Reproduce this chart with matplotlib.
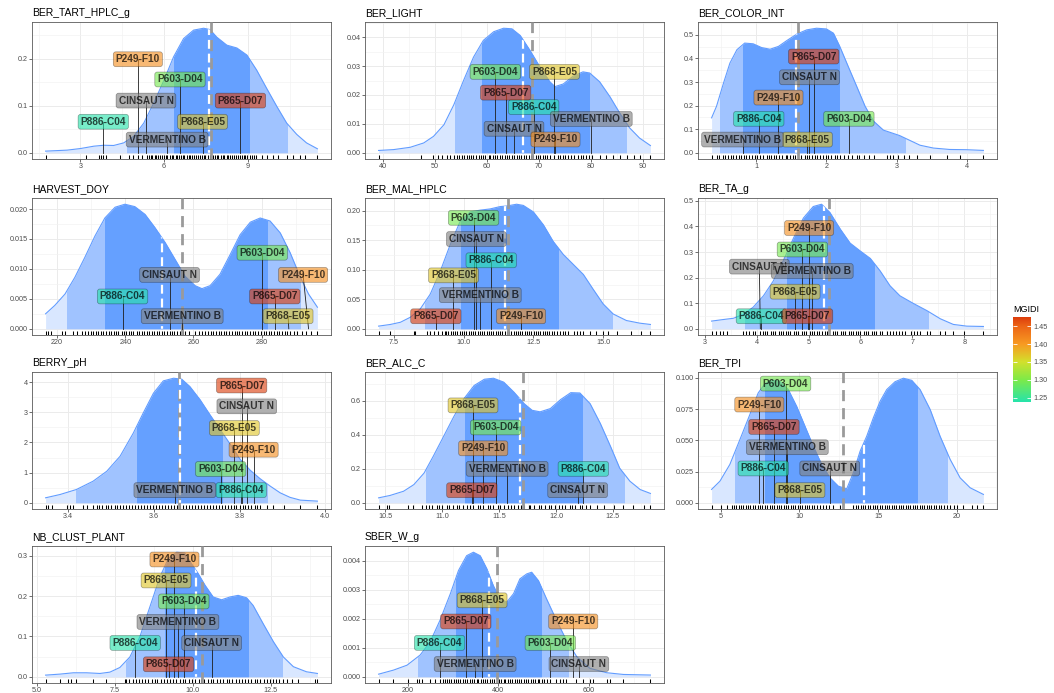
import numpy as np
import matplotlib
matplotlib.use("Agg")
import matplotlib.pyplot as plt
from matplotlib.colors import LinearSegmentedColormap, Normalize, to_rgba
from matplotlib.patches import Rectangle
import matplotlib.cm as cm

plt.rcParams['font.family'] = ['Liberation Sans', 'DejaVu Sans']

genotypes = ["P886-C04", "CINSAUT N", "P603-D04", "P868-E05", "P249-F10", "VERMENTINO B", "P865-D07"]
mgidi = [1.238, np.nan, 1.295, 1.37, 1.41, np.nan, 1.476]

# ---- BER_TART_HPLC_g
tart_dx = [1.75, 2.52, 3.0, 3.48, 3.84, 4.19, 4.55, 4.91, 5.27, 5.63, 6.0, 6.34, 6.70, 7.06, 7.42, 7.65,
           7.89, 8.25, 8.61, 8.97, 9.32, 9.68, 10.04, 10.4, 10.76, 11.11, 11.5]
tart_dy = [0.0035, 0.0056, 0.009, 0.014, 0.016, 0.0155, 0.021, 0.035, 0.063, 0.106, 0.155, 0.204, 0.243,
           0.261, 0.265, 0.262, 0.246, 0.229, 0.223, 0.208, 0.176, 0.137, 0.099, 0.063, 0.039, 0.021, 0.0085]
tart_rug = [1.75, 3.21, 3.66, 3.74, 3.82, 3.91, 4.43, 4.73, 4.89, 5.05, 5.21, 5.39, 5.45, 5.52, 5.58, 5.66,
            5.71, 5.79, 5.86, 5.92, 5.99, 6.07, 6.12, 6.2, 6.27, 6.33, 6.41, 6.46, 6.54, 6.61, 6.68, 6.73,
            6.81, 6.88, 6.94, 7.01, 7.09, 7.14, 7.22, 7.29, 7.35, 7.42, 7.48, 7.56, 7.63, 7.69, 7.76, 7.83,
            7.9, 7.95, 8.03, 8.1, 8.16, 8.24, 8.31, 8.37, 8.44, 8.51, 8.57, 8.65, 8.71, 8.79, 8.86, 8.92,
            8.99, 9.07, 9.14, 9.22, 9.31, 9.5, 9.68, 9.9, 10.1, 10.42, 10.61, 10.88, 11.05, 11.5]
tart_q = [4.67, 6.34, 9.03, 10.42]
tart_sel, tart_mean = 7.62, 7.68
tart_geno = [3.82, 5.35, 6.57, 7.38, 5.06, 6.11, 8.74]

# ---- BER_LIGHT
light_dx = [39.1, 42.0, 45.2, 47.8, 49.7, 51.7, 53.6, 55.5, 57.4, 59.3, 61.3, 63.2, 64.8, 66.4, 68.3, 70.2,
            72.1, 73.1, 74.7, 76.6, 78.5, 79.8, 81.7, 83.7, 85.6, 87.5, 89.4, 91.5]
light_dy = [0.0008, 0.0011, 0.0019, 0.0034, 0.0057, 0.0097, 0.0166, 0.0251, 0.0331, 0.0389, 0.0419, 0.0431,
            0.0429, 0.0406, 0.0354, 0.0297, 0.0246, 0.0229, 0.0238, 0.0265, 0.028, 0.0276, 0.0246, 0.0194,
            0.0137, 0.0086, 0.0051, 0.0025]
light_rug = [39.1, 47.3, 49.6, 50.5, 51.3, 52.3, 52.9, 53.7, 54.2, 54.6, 55.2, 55.6, 56.1, 56.5, 57.0, 57.3,
             57.9, 58.4, 58.8, 59.2, 59.7, 60.3, 60.6, 61.1, 61.5, 62.0, 62.6, 62.9, 63.4, 63.8, 64.3, 64.9,
             65.2, 65.7, 66.1, 66.6, 67.2, 67.5, 68.0, 68.4, 68.9, 69.5, 69.8, 70.3, 70.7, 71.2, 71.6, 72.1,
             72.9, 73.6, 74.1, 74.7, 75.1, 75.6, 76.2, 76.8, 77.6, 78.1, 78.6, 79.1, 79.7, 80.3, 81.7, 83.0,
             84.3, 85.6, 86.9, 88.3, 89.4, 91.5]
light_q = [53.9, 59.1, 79.7, 86.7]
light_sel, light_mean = 66.9, 68.7
light_geno = [69.0, 65.2, 61.6, 73.0, 73.2, 80.1, 63.6]

# ---- BER_COLOR_INT
color_dx = [0.37, 0.44, 0.54, 0.63, 0.73, 0.84, 0.96, 1.08, 1.20, 1.32, 1.44, 1.58, 1.72, 1.86, 2.00, 2.10,
            2.19, 2.31, 2.43, 2.55, 2.67, 2.81, 2.95, 3.04, 3.16, 3.33, 3.52, 3.75, 3.99, 4.23]
color_dy = [0.148, 0.197, 0.296, 0.380, 0.437, 0.465, 0.462, 0.446, 0.439, 0.451, 0.476, 0.503, 0.521, 0.528,
            0.525, 0.507, 0.451, 0.366, 0.282, 0.197, 0.134, 0.096, 0.082, 0.073, 0.056, 0.032, 0.020, 0.014,
            0.013, 0.010]
color_rug = [0.37, 0.44, 0.48, 0.53, 0.56, 0.6, 0.64, 0.67, 0.71, 0.76, 0.79, 0.83, 0.86, 0.9, 0.95, 0.98,
             1.02, 1.06, 1.1, 1.15, 1.18, 1.21, 1.26, 1.29, 1.33, 1.37, 1.42, 1.44, 1.48, 1.53, 1.56, 1.6,
             1.64, 1.69, 1.72, 1.76, 1.79, 1.84, 1.87, 1.91, 1.95, 2.0, 2.03, 2.07, 2.12, 2.15, 2.2, 2.25,
             2.3, 2.36, 2.43, 2.47, 2.53, 2.6, 2.67, 2.86, 2.9, 2.95, 3.02, 3.1, 3.17, 3.28, 3.47, 3.71,
             3.9, 4.23]
color_q = [0.49, 0.82, 2.18, 3.12]
color_sel, color_mean = 1.57, 1.59
color_geno = [1.04, 1.76, 2.32, 1.73, 1.32, 0.81, 1.82]

# ---- HARVEST_DOY
harvest_dx = [216.6, 219.3, 222.3, 225.2, 228.1, 231.1, 234.0, 237.0, 239.9, 242.8, 245.8, 248.7, 251.7,
              254.6, 257.5, 260.5, 262.5, 264.9, 267.8, 270.8, 273.7, 276.7, 279.6, 282.5, 285.5, 288.4,
              291.4, 293.8, 296.4]
harvest_dy = [0.0025, 0.0039, 0.0058, 0.0086, 0.0119, 0.0155, 0.0185, 0.0203, 0.0208, 0.0204, 0.0191, 0.0169,
              0.0144, 0.0116, 0.0088, 0.0072, 0.0067, 0.0072, 0.0091, 0.0124, 0.0157, 0.0178, 0.0185, 0.0180,
              0.0160, 0.0127, 0.0086, 0.0058, 0.0036]
harvest_rug = [216.6, 217.4, 218.1, 221.3, 222.3, 224.7, 225.9, 227.2, 228.3, 229.1, 229.8, 230.4, 231.3,
               232.1, 232.8, 233.4, 234.3, 235.1, 235.8, 236.6, 237.3, 238.0, 238.9, 239.5, 240.3, 241.1,
               241.8, 242.4, 243.3, 244.0, 244.9, 245.5, 246.3, 247.1, 247.8, 248.5, 249.2, 250.0, 250.9,
               251.5, 252.3, 253.1, 253.8, 254.4, 255.3, 256.0, 256.9, 257.6, 258.8, 260.5, 261.5, 262.5,
               263.4, 264.2, 265.1, 265.8, 266.5, 267.4, 268.1, 268.9, 269.7, 270.4, 271.2, 272.1, 272.7,
               273.5, 274.4, 275.1, 275.8, 276.7, 277.4, 278.2, 279.0, 279.7, 280.6, 281.3, 282.1, 282.8,
               283.7, 284.4, 285.2, 286.1, 286.8, 287.6, 288.4, 289.5, 290.5, 292.0, 293.0, 294.5, 296.4]
harvest_q = [222.9, 234.0, 281.6, 291.2]
harvest_sel, harvest_mean = 250.7, 256.6
harvest_geno = [239.2, 253.0, 280.2, 288.0, 293.8, 256.7, 283.9]

# ---- BER_MAL_HPLC
mal_dx = [6.96, 7.38, 7.74, 8.10, 8.45, 8.81, 9.17, 9.52, 9.88, 10.24, 10.60, 10.95, 11.31, 11.55, 11.90,
          12.14, 12.5, 12.86, 13.21, 13.57, 13.93, 14.29, 14.64, 15.0, 15.36, 15.83, 16.31, 16.69]
mal_dy = [0.0045, 0.0073, 0.011, 0.0196, 0.0335, 0.0587, 0.0978, 0.142, 0.182, 0.198, 0.201, 0.203, 0.207,
          0.208, 0.211, 0.209, 0.198, 0.176, 0.148, 0.126, 0.109, 0.092, 0.067, 0.042, 0.025, 0.014, 0.0095,
          0.0073]
mal_rug = [6.96, 7.38, 8.21, 8.27, 8.69, 8.81, 8.93, 9.07, 9.23, 9.32, 9.39, 9.46, 9.55, 9.64, 9.71, 9.78,
           9.87, 9.96, 10.03, 10.1, 10.19, 10.28, 10.35, 10.42, 10.51, 10.6, 10.67, 10.74, 10.83, 10.92, 10.99,
           11.06, 11.15, 11.24, 11.31, 11.38, 11.47, 11.56, 11.63, 11.7, 11.79, 11.88, 11.95, 12.02, 12.11,
           12.2, 12.27, 12.34, 12.43, 12.52, 12.59, 12.66, 12.75, 12.84, 12.91, 12.98, 13.07, 13.16, 13.23,
           13.33, 13.45, 13.55, 13.65, 13.75, 13.95, 14.05, 14.17, 14.29, 14.52, 14.76, 15.0, 15.18, 15.48,
           16.01, 16.37, 16.69]
mal_q = [8.63, 9.92, 13.37, 15.30]
mal_sel, mal_mean = 11.49, 11.61
mal_geno = [10.99, 10.46, 10.36, 9.64, 12.06, 10.6, 9.01]

# ---- BER_TA_g
ta_dx = [3.13, 3.35, 3.55, 3.74, 3.93, 4.13, 4.32, 4.51, 4.71, 4.90, 5.09, 5.25, 5.41, 5.61, 5.80, 5.99,
         6.19, 6.38, 6.57, 6.76, 7.02, 7.28, 7.54, 7.79, 8.05, 8.37]
ta_dy = [0.030, 0.036, 0.041, 0.056, 0.084, 0.129, 0.187, 0.265, 0.355, 0.433, 0.478, 0.487, 0.455, 0.39,
         0.335, 0.305, 0.275, 0.226, 0.168, 0.129, 0.099, 0.071, 0.039, 0.017, 0.0103, 0.009]
ta_rug = [3.13, 3.22, 3.29, 3.35, 3.42, 3.74, 3.8, 3.86, 3.92, 3.97, 4.06, 4.12, 4.16, 4.2, 4.27, 4.31, 4.35,
          4.42, 4.46, 4.5, 4.57, 4.61, 4.65, 4.72, 4.76, 4.8, 4.87, 4.91, 4.95, 5.02, 5.06, 5.1, 5.17, 5.21,
          5.25, 5.32, 5.36, 5.4, 5.47, 5.51, 5.55, 5.62, 5.66, 5.7, 5.77, 5.81, 5.85, 5.92, 5.96, 6.0, 6.07,
          6.11, 6.15, 6.22, 6.26, 6.3, 6.37, 6.42, 6.51, 6.57, 6.63, 6.68, 6.74, 6.8, 6.86, 6.97, 7.03, 7.09,
          7.15, 7.28, 7.34, 7.54, 7.63, 7.79, 7.99, 8.37]
ta_q = [3.77, 4.59, 6.27, 7.31]
ta_sel, ta_mean = 5.30, 5.40
ta_geno = [4.09, 4.07, 4.88, 4.74, 5.01, 5.07, 4.98]

# ---- BERRY_pH
ph_dx = [3.347, 3.381, 3.419, 3.458, 3.490, 3.521, 3.552, 3.575, 3.599, 3.622, 3.646, 3.665, 3.684, 3.708,
         3.731, 3.755, 3.778, 3.801, 3.825, 3.848, 3.872, 3.895, 3.918, 3.942, 3.982]
ph_dy = [0.165, 0.275, 0.44, 0.716, 1.047, 1.543, 2.314, 2.975, 3.636, 4.044, 4.132, 4.10, 3.857, 3.416,
         2.92, 2.424, 1.95, 1.45, 1.08, 0.80, 0.55, 0.33, 0.18, 0.088, 0.055]
ph_rug = [3.347, 3.353, 3.361, 3.396, 3.405, 3.412, 3.435, 3.444, 3.458, 3.466, 3.472, 3.478, 3.487, 3.493,
          3.499, 3.508, 3.514, 3.52, 3.529, 3.535, 3.541, 3.55, 3.556, 3.562, 3.571, 3.577, 3.583, 3.592,
          3.598, 3.604, 3.613, 3.619, 3.625, 3.634, 3.64, 3.646, 3.655, 3.661, 3.667, 3.676, 3.682, 3.688,
          3.697, 3.703, 3.709, 3.718, 3.724, 3.73, 3.739, 3.745, 3.751, 3.76, 3.766, 3.772, 3.781, 3.786,
          3.792, 3.802, 3.808, 3.814, 3.82, 3.826, 3.836, 3.842, 3.848, 3.864, 3.878, 3.903, 3.942, 3.982]
ph_q = [3.419, 3.56, 3.759, 3.864]
ph_sel, ph_mean = 3.661, 3.659
ph_geno = [3.804, 3.817, 3.756, 3.788, 3.833, 3.649, 3.805]

# ---- BER_ALC_C
alc_dx = [10.44, 10.54, 10.66, 10.75, 10.84, 10.92, 11.01, 11.10, 11.19, 11.28, 11.37, 11.45, 11.54, 11.63,
          11.72, 11.79, 11.86, 11.95, 12.04, 12.13, 12.21, 12.30, 12.39, 12.48, 12.56, 12.65, 12.74, 12.83]
alc_dy = [0.029, 0.043, 0.068, 0.107, 0.175, 0.273, 0.389, 0.506, 0.613, 0.691, 0.728, 0.734, 0.711, 0.652,
          0.584, 0.545, 0.536, 0.555, 0.608, 0.649, 0.647, 0.584, 0.467, 0.331, 0.204, 0.127, 0.078, 0.055]
alc_rug = [10.44, 10.51, 10.53, 10.7, 10.74, 10.82, 10.86, 10.88, 10.91, 10.95, 10.97, 11.0, 11.04, 11.06,
           11.09, 11.13, 11.15, 11.18, 11.22, 11.24, 11.27, 11.31, 11.33, 11.36, 11.4, 11.42, 11.45, 11.49,
           11.51, 11.54, 11.58, 11.6, 11.63, 11.67, 11.69, 11.72, 11.76, 11.77, 11.81, 11.85, 11.87, 11.9,
           11.94, 11.96, 11.99, 12.03, 12.05, 12.08, 12.12, 12.14, 12.17, 12.21, 12.23, 12.26, 12.3, 12.36,
           12.42, 12.51, 12.59, 12.68, 12.77, 12.83]
alc_q = [10.86, 11.20, 12.23, 12.60]
alc_sel, alc_mean = 11.68, 11.71
alc_geno = [12.24, 12.19, 11.47, 11.27, 11.36, 11.57, 11.26]

# ---- BER_TPI
tpi_dx = [4.43, 4.96, 5.59, 6.23, 6.86, 7.39, 7.82, 8.24, 8.77, 9.30, 9.83, 10.36, 10.89, 11.42, 11.95,
          12.48, 13.01, 13.43, 13.86, 14.28, 14.70, 15.13, 15.55, 16.08, 16.61, 17.14, 17.67, 18.31, 18.94,
          19.58, 20.21, 20.85, 21.69]
tpi_dy = [0.0107, 0.0173, 0.0307, 0.0507, 0.0707, 0.088, 0.0955, 0.0985, 0.0973, 0.0907, 0.0773, 0.0613,
          0.0453, 0.0307, 0.020, 0.0133, 0.0112, 0.0240, 0.0413, 0.0533, 0.0680, 0.0813, 0.0907, 0.0970,
          0.0998, 0.0981, 0.0907, 0.0747, 0.0533, 0.0347, 0.020, 0.012, 0.0067]
tpi_rug = [4.43, 5.0, 5.38, 5.7, 5.86, 6.0, 6.14, 6.31, 6.45, 6.59, 6.76, 6.9, 7.04, 7.21, 7.35, 7.49, 7.66,
           7.8, 7.94, 8.11, 8.25, 8.39, 8.56, 8.7, 8.84, 9.01, 9.15, 9.29, 9.46, 9.6, 9.74, 9.91, 10.05, 10.19,
           10.36, 10.5, 10.64, 10.81, 10.95, 11.1, 11.3, 11.5, 11.7, 11.9, 12.16, 12.58, 12.8, 13.43, 13.61,
           13.75, 13.89, 14.06, 14.2, 14.34, 14.51, 14.65, 14.79, 14.96, 15.1, 15.24, 15.41, 15.55, 15.69,
           15.86, 16.0, 16.14, 16.31, 16.45, 16.59, 16.76, 16.9, 17.04, 17.21, 17.35, 17.49, 17.66, 17.8,
           17.94, 18.11, 18.25, 18.39, 18.56, 18.7, 18.84, 19.01, 19.2, 19.4, 19.6, 19.8, 20.0, 20.42,
           20.95, 21.27, 21.69]
tpi_q = [5.91, 7.82, 17.5, 19.36]
tpi_sel, tpi_mean = 14.11, 12.75
tpi_geno = [7.71, 11.93, 9.13, 10.04, 7.46, 9.24, 8.39]

# ---- NB_CLUST_PLANT
nb_dx = [5.29, 5.75, 6.18, 6.60, 7.03, 7.35, 7.67, 7.99, 8.31, 8.63, 8.95, 9.22, 9.49, 9.75, 9.97, 10.18,
         10.40, 10.66, 10.93, 11.2, 11.46, 11.73, 11.94, 12.26, 12.59, 12.91, 13.23, 13.65, 14.0]
nb_dy = [0.0041, 0.0066, 0.0099, 0.0099, 0.0082, 0.0115, 0.023, 0.049, 0.099, 0.173, 0.247, 0.293, 0.309,
         0.307, 0.280, 0.256, 0.227, 0.198, 0.191, 0.198, 0.202, 0.196, 0.177, 0.132, 0.087, 0.049, 0.025,
         0.0124, 0.0082]
nb_rug = [5.29, 5.75, 6.01, 6.12, 6.26, 6.82, 7.24, 7.83, 7.88, 7.97, 8.09, 8.18, 8.27, 8.39, 8.48, 8.57,
          8.69, 8.78, 8.87, 8.99, 9.08, 9.17, 9.29, 9.38, 9.47, 9.59, 9.68, 9.77, 9.89, 9.98, 10.07, 10.19,
          10.28, 10.37, 10.49, 10.58, 10.67, 10.79, 10.88, 10.97, 11.09, 11.18, 11.27, 11.39, 11.48, 11.57,
          11.69, 11.78, 11.87, 11.99, 12.08, 12.17, 12.29, 12.38, 12.47, 12.59, 12.68, 12.77, 12.89, 13.01,
          13.17, 13.39, 13.92, 14.0]
nb_q = [7.88, 9.13, 11.78, 12.87]
nb_sel, nb_mean = 10.11, 10.30
nb_geno = [8.16, 10.61, 9.72, 9.15, 9.42, 9.53, 9.23]

# ---- SBER_W_g
sber_dx = [135, 168, 198, 227, 249, 271, 294, 312, 330, 345, 360, 375, 389, 404, 419, 434, 448, 463, 474,
           489, 507, 529, 551, 574, 603, 640, 677, 737]
sber_dy = [0.00009, 0.00023, 0.0004, 0.00075, 0.0012, 0.00195, 0.00287, 0.00367, 0.00418, 0.0043, 0.00418,
           0.00372, 0.00315, 0.00269, 0.00258, 0.00287, 0.00338, 0.00355, 0.00361, 0.00332, 0.00269, 0.00195,
           0.00126, 0.00069, 0.00029, 0.00014, 0.00008, 0.00006]
sber_rug = [135, 168, 201, 220, 224, 231, 249, 260, 271, 277, 281, 286, 292, 296, 301, 307, 311, 316, 322,
            326, 331, 337, 341, 346, 352, 356, 361, 367, 371, 376, 382, 386, 391, 397, 401, 406, 412, 416,
            421, 427, 431, 436, 442, 446, 451, 457, 461, 466, 472, 476, 481, 487, 491, 496, 502, 507, 514,
            529, 536, 543, 551, 573, 588, 603, 610, 640, 647, 677, 737]
sber_q = [221.4, 306.8, 493.9, 555.1]
sber_sel, sber_mean = 380.5, 396.7
sber_geno = [270, 578.6, 515.3, 364.3, 566.1, 348.8, 328.2]

# label box placement (x, y), same order as genotypes
tart_lab = [(3.82, 0.066), (5.35, 0.111), (6.57, 0.156), (7.38, 0.066), (5.06, 0.199), (6.11, 0.028), (8.74, 0.111)]
light_lab = [(69.0, 0.0158), (65.2, 0.0083), (61.6, 0.028), (73.0, 0.028), (73.2, 0.0046), (80.1, 0.0117), (63.6, 0.0208)]
color_lab = [(1.04, 0.144), (1.76, 0.32), (2.32, 0.144), (1.73, 0.056), (1.32, 0.234), (0.81, 0.056), (1.82, 0.408)]
harvest_lab = [(239.2, 0.0054), (253.0, 0.0090), (280.2, 0.0127), (287.8, 0.0021), (292.2, 0.0090), (256.7, 0.0021), (283.9, 0.0054)]
mal_lab = [(10.99, 0.116), (10.46, 0.152), (10.36, 0.188), (9.64, 0.0905), (12.06, 0.0212), (10.6, 0.057), (9.01, 0.0212)]
ta_lab = [(4.09, 0.049), (4.05, 0.243), (4.88, 0.31), (4.74, 0.145), (5.01, 0.394), (5.07, 0.226), (4.98, 0.049)]
ph_lab = [(3.804, 0.42), (3.817, 3.2), (3.756, 1.12), (3.788, 2.48), (3.833, 1.76), (3.649, 0.42), (3.805, 3.89)]
alc_lab = [(12.24, 0.2), (12.19, 0.074), (11.47, 0.444), (11.27, 0.574), (11.36, 0.321), (11.57, 0.2), (11.26, 0.074)]
tpi_lab = [(7.71, 0.0275), (11.93, 0.0275), (9.13, 0.0955), (10.04, 0.0101), (7.46, 0.0787), (9.24, 0.0445), (8.39, 0.0608)]
nb_lab = [(8.16, 0.084), (10.61, 0.084), (9.72, 0.187), (9.15, 0.239), (9.42, 0.291), (9.53, 0.136), (9.23, 0.031)]
sber_lab = [(270, 0.00117), (578.6, 0.00044), (515.3, 0.00117), (364.3, 0.00264), (566.1, 0.00191), (348.8, 0.00044), (328.2, 0.00191)]

LIGHT = "#D9E7FF"
MID = "#A0C3FF"
DARK = "#65A0FF"
LINE = "#619CFF"

cmap = LinearSegmentedColormap.from_list(
    "mgidi", [(0.0, "#26E3AA"), (0.26, "#7DEA48"), (0.471, "#D2E02C"),
              (0.681, "#F79A22"), (0.891, "#EC6516"), (1.0, "#DC3D0C")])
norm = Normalize(1.238, 1.476)


def draw_panel(ax, title, dx, dy, rug, q, sel, mean, geno, lab, xt, xl, yt, yl):
    dx = np.asarray(dx)
    dy = np.asarray(dy)
    lo, hi = min(rug), max(rug)
    span = hi - lo
    top = dy.max()

    # density with quantile bands: light tails, mid band, dark core
    base = ax.fill_between(dx, 0, dy, color=LIGHT, lw=0, zorder=1)
    for (a, b), col in [((q[0], q[3]), MID), ((q[1], q[2]), DARK)]:
        band = ax.fill_between(dx, 0, dy, color=col, lw=0, zorder=1.1)
        band.set_clip_path(Rectangle((a, -10 * top), b - a, 20 * top, transform=ax.transData))
    ax.plot(dx, dy, color=LINE, lw=0.8, zorder=2)

    ax.vlines(rug, 0, 0.03, transform=ax.get_xaxis_transform(), color="black", lw=0.75, zorder=3)

    ax.axvline(mean, color="#9A9A9A", lw=2.0, dashes=(4, 2.5), zorder=3)
    w = ax.axvline(sel, color="white", lw=1.6, dashes=(4, 2.2), zorder=4)
    w.set_clip_path(base.get_paths()[0], base.get_transform())

    for v, (lx, ly) in zip(geno, lab):
        ax.plot([v, lx], [0, ly], color="#1E1E1E", lw=0.6, zorder=5)
    for name, m, (lx, ly) in zip(genotypes, mgidi, lab):
        fc = (0.5, 0.5, 0.5, 0.62) if np.isnan(m) else to_rgba(cmap(norm(m)), 0.62)
        ax.text(lx, ly, name, ha="center", va="center", fontsize=7.3, fontweight="bold",
                color=(0, 0, 0, 0.7), zorder=6,
                bbox=dict(boxstyle="round,pad=0.24,rounding_size=0.25", fc=fc,
                          ec=(0, 0, 0, 0.35), lw=0.5))

    ax.set_xticks(xt)
    ax.set_xticklabels(xl)
    ax.set_yticks(yt)
    ax.set_yticklabels(yl)
    sx = xt[1] - xt[0]
    sy = yt[1] - yt[0]
    ax.set_xticks(np.arange(xt[0] - sx / 2, xt[-1] + sx, sx), minor=True)
    ax.set_yticks(np.arange(yt[0] - sy / 2, yt[-1] + sy, sy), minor=True)
    ax.set_xlim(lo - 0.05 * span, hi + 0.05 * span)
    ax.set_ylim(-0.05 * top, 1.05 * top)
    ax.grid(which="major", color="#EBEBEB", lw=0.7)
    ax.grid(which="minor", color="#F2F2F2", lw=0.45)
    ax.set_axisbelow(True)
    ax.tick_params(which="major", length=2, width=0.5, color="#333333", labelsize=5.2,
                   labelcolor="#4D4D4D", pad=1.2)
    ax.tick_params(which="minor", length=0)
    for s in ax.spines.values():
        s.set_color("#5A5A5A")
        s.set_linewidth(0.6)
    ax.set_title(title, loc="left", fontsize=7.5, pad=4)


panels = [
    ("BER_TART_HPLC_g", tart_dx, tart_dy, tart_rug, tart_q, tart_sel, tart_mean, tart_geno, tart_lab,
     [3, 6, 9], ["3", "6", "9"], [0, 0.1, 0.2], ["0.0", "0.1", "0.2"]),
    ("BER_LIGHT", light_dx, light_dy, light_rug, light_q, light_sel, light_mean, light_geno, light_lab,
     [40, 50, 60, 70, 80, 90], ["40", "50", "60", "70", "80", "90"],
     [0, 0.01, 0.02, 0.03, 0.04], ["0.00", "0.01", "0.02", "0.03", "0.04"]),
    ("BER_COLOR_INT", color_dx, color_dy, color_rug, color_q, color_sel, color_mean, color_geno, color_lab,
     [1, 2, 3, 4], ["1", "2", "3", "4"],
     [0, 0.1, 0.2, 0.3, 0.4, 0.5], ["0.0", "0.1", "0.2", "0.3", "0.4", "0.5"]),
    ("HARVEST_DOY", harvest_dx, harvest_dy, harvest_rug, harvest_q, harvest_sel, harvest_mean, harvest_geno,
     harvest_lab, [220, 240, 260, 280], ["220", "240", "260", "280"],
     [0, 0.005, 0.01, 0.015, 0.02], ["0.000", "0.005", "0.010", "0.015", "0.020"]),
    ("BER_MAL_HPLC", mal_dx, mal_dy, mal_rug, mal_q, mal_sel, mal_mean, mal_geno, mal_lab,
     [7.5, 10, 12.5, 15], ["7.5", "10.0", "12.5", "15.0"],
     [0, 0.05, 0.1, 0.15, 0.2], ["0.00", "0.05", "0.10", "0.15", "0.20"]),
    ("BER_TA_g", ta_dx, ta_dy, ta_rug, ta_q, ta_sel, ta_mean, ta_geno, ta_lab,
     [3, 4, 5, 6, 7, 8], ["3", "4", "5", "6", "7", "8"],
     [0, 0.1, 0.2, 0.3, 0.4, 0.5], ["0.0", "0.1", "0.2", "0.3", "0.4", "0.5"]),
    ("BERRY_pH", ph_dx, ph_dy, ph_rug, ph_q, ph_sel, ph_mean, ph_geno, ph_lab,
     [3.4, 3.6, 3.8, 4.0], ["3.4", "3.6", "3.8", "4.0"], [0, 1, 2, 3, 4], ["0", "1", "2", "3", "4"]),
    ("BER_ALC_C", alc_dx, alc_dy, alc_rug, alc_q, alc_sel, alc_mean, alc_geno, alc_lab,
     [10.5, 11, 11.5, 12, 12.5], ["10.5", "11.0", "11.5", "12.0", "12.5"],
     [0, 0.2, 0.4, 0.6], ["0.0", "0.2", "0.4", "0.6"]),
    ("BER_TPI", tpi_dx, tpi_dy, tpi_rug, tpi_q, tpi_sel, tpi_mean, tpi_geno, tpi_lab,
     [5, 10, 15, 20], ["5", "10", "15", "20"],
     [0, 0.025, 0.05, 0.075, 0.1], ["0.000", "0.025", "0.050", "0.075", "0.100"]),
    ("NB_CLUST_PLANT", nb_dx, nb_dy, nb_rug, nb_q, nb_sel, nb_mean, nb_geno, nb_lab,
     [5, 7.5, 10, 12.5], ["5.0", "7.5", "10.0", "12.5"], [0, 0.1, 0.2, 0.3], ["0.0", "0.1", "0.2", "0.3"]),
    ("SBER_W_g", sber_dx, sber_dy, sber_rug, sber_q, sber_sel, sber_mean, sber_geno, sber_lab,
     [200, 400, 600], ["200", "400", "600"],
     [0, 0.001, 0.002, 0.003, 0.004], ["0.000", "0.001", "0.002", "0.003", "0.004"]),
]

W, H = 1054, 693
fig = plt.figure(figsize=(W / 100, H / 100), dpi=100)
col_left = [32, 365, 698]
row_top = [22, 198, 372, 546]
pw, ph_ = 299, 137

for i, spec in enumerate(panels):
    r, c = divmod(i, 3)
    ax = fig.add_axes([col_left[c] / W, 1 - (row_top[r] + ph_) / H, pw / W, ph_ / H])
    draw_panel(ax, *spec)

# MGIDI colour bar
cax = fig.add_axes([1013 / W, 1 - 402 / H, 18 / W, 85 / H])
cb = fig.colorbar(cm.ScalarMappable(norm=norm, cmap=cmap), cax=cax)
cb.outline.set_visible(False)
cb.set_ticks([1.25, 1.30, 1.35, 1.40, 1.45])
cb.set_ticklabels(["1.25", "1.30", "1.35", "1.40", "1.45"])
cax.tick_params(color="white", labelcolor="#4D4D4D", direction="in", length=3, width=0.6,
                left=True, right=True, labelsize=5.2, pad=2)
fig.text(1013 / W, 1 - 310 / H, "MGIDI", fontsize=6.5, va="center", ha="left")

fig.savefig("out.png", dpi=100)
